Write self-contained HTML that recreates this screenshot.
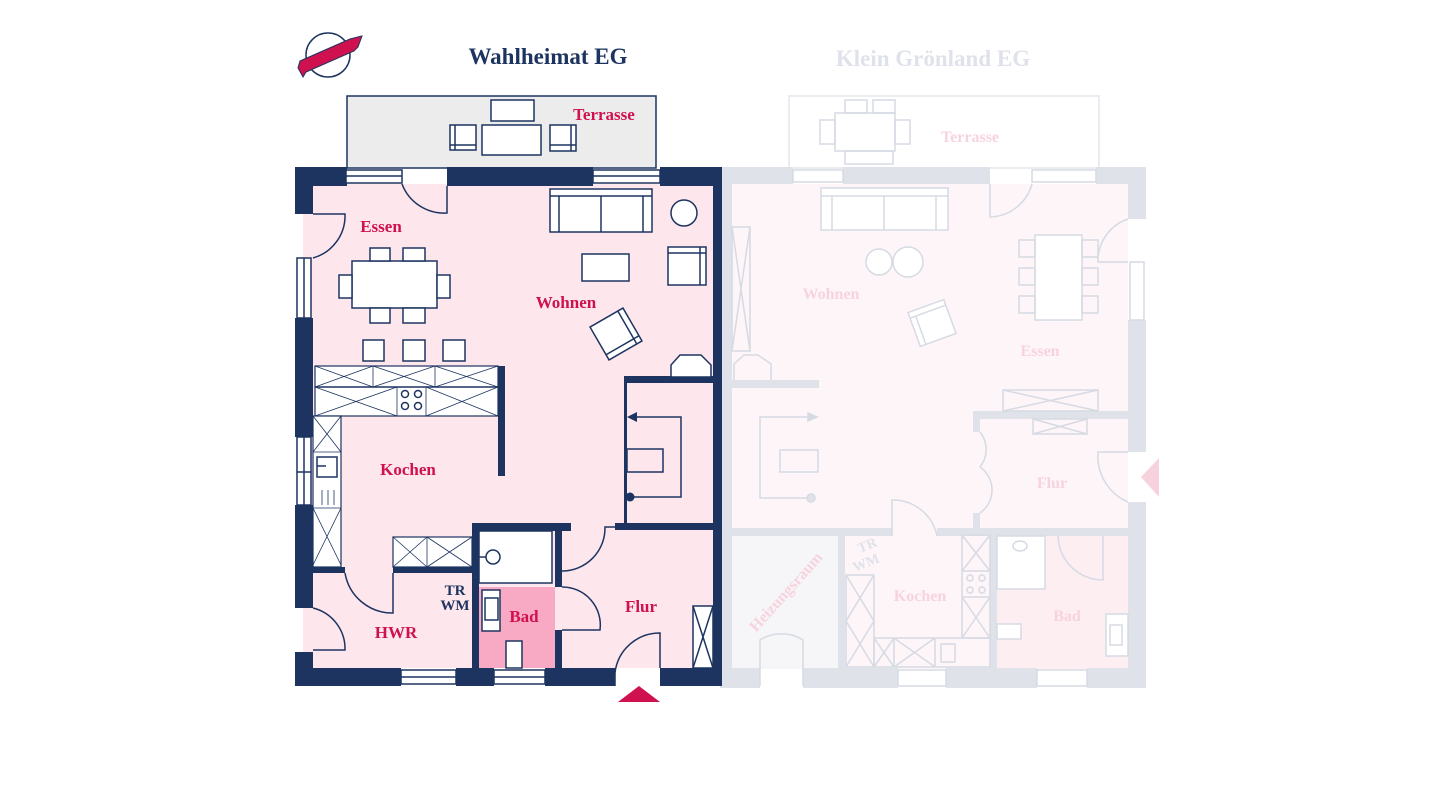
<!DOCTYPE html>
<html><head><meta charset="utf-8"><style>
html,body{margin:0;padding:0;background:#fff;}
svg{display:block;}
text{font-family:"Liberation Serif",serif;font-weight:bold;}
</style></head><body>
<svg width="1440" height="810" viewBox="0 0 1440 810" xmlns="http://www.w3.org/2000/svg">
<rect width="1440" height="810" fill="#fff"/>

<!-- Logo -->
<circle cx="328" cy="55" r="22" fill="none" stroke="#1d3461" stroke-width="1.5"/>
<polygon points="300,61 350,39 362,36 358,47 354,51 306,72 303,77 298,68" fill="#d0114f" stroke="#1d3461" stroke-width="1"/>

<text x="548" y="64" font-size="23" fill="#1d3461" text-anchor="middle">Wahlheimat EG</text>
<text x="933" y="66" font-size="23" fill="#dfe2ea" text-anchor="middle">Klein Grönland EG</text>

<!-- ============ RIGHT (faded) BUILDING ============ -->
<g>
<rect x="789" y="96" width="310" height="72" fill="#fff" stroke="#e2e5ec" stroke-width="1.5"/>
<rect x="732" y="184" width="396" height="485" fill="#fdf5f8"/>
<rect x="732" y="536" width="106" height="133" fill="#f6f6f8"/>
<rect x="997" y="536" width="131" height="133" fill="#fdeef2"/>
<g fill="#dfe2e9">
<rect x="720" y="167" width="12" height="521"/>
<rect x="720" y="167" width="73" height="17"/>
<rect x="843" y="167" width="147" height="17"/>
<rect x="1096" y="167" width="50" height="17"/>
<rect x="1128" y="167" width="18" height="52"/>
<rect x="1128" y="320" width="18" height="132"/>
<rect x="1128" y="502" width="18" height="186"/>
<rect x="720" y="668" width="40" height="20"/>
<rect x="803" y="668" width="95" height="20"/>
<rect x="946" y="668" width="91" height="20"/>
<rect x="1087" y="668" width="59" height="20"/>
<rect x="732" y="380" width="87" height="8"/>
<rect x="732" y="528" width="160" height="8"/>
<rect x="937" y="528" width="191" height="8"/>
<rect x="838" y="536" width="7" height="133"/>
<rect x="990" y="536" width="7" height="133"/>
<rect x="973" y="411" width="155" height="8"/>
<rect x="973" y="419" width="7" height="13"/>
<rect x="973" y="513" width="7" height="15"/>
</g>
<g fill="none" stroke="#d6dae3" stroke-width="1.5">
<rect x="793" y="170" width="50" height="12" fill="#fff"/>
<rect x="1032" y="170" width="64" height="12" fill="#fff"/>
<rect x="1130" y="262" width="14" height="58" fill="#fff"/>
<rect x="898" y="670" width="48" height="16" fill="#fff"/>
<rect x="1037" y="670" width="50" height="16" fill="#fff"/>
<path d="M990,184 V217 A45,45 0 0 0 1032,184"/>
<path d="M1128,219 A44,44 0 0 0 1098,262 H1128" />
<path d="M1128,502 A50,50 0 0 1 1098,452 H1128"/>
<path d="M892,536 V500 A45,45 0 0 1 937,536"/>
<path d="M760,686 V640 A40,40 0 0 1 803,640 V686"/>
<path d="M980,432 A28,28 0 0 1 980,467 A28,28 0 0 1 980,513"/>
<path d="M1058,536 A45,45 0 0 0 1103,580 V536"/>
<rect x="835" y="113" width="60" height="38" fill="#fff"/>
<rect x="845" y="100" width="22" height="13"/><rect x="873" y="100" width="22" height="13"/>
<rect x="845" y="151" width="48" height="13"/>
<rect x="820" y="120" width="15" height="24"/><rect x="895" y="120" width="15" height="24"/>
<rect x="821" y="188" width="127" height="42" fill="#fff"/>
<line x1="821" y1="196" x2="948" y2="196"/><line x1="832" y1="196" x2="832" y2="230"/><line x1="936" y1="196" x2="936" y2="230"/><line x1="884" y1="196" x2="884" y2="230"/>
<circle cx="879" cy="262" r="13" fill="#fff"/><circle cx="908" cy="262" r="15" fill="#fff"/>
<rect x="732" y="227" width="18" height="124"/><path d="M732,227 L750,351 M750,227 L732,351"/>
<path d="M734,380 V364 L744,355 H758 L771,364 V380"/>
<g transform="rotate(-20 932 323)"><rect x="913" y="305" width="38" height="36" fill="#fff"/><path d="M913,311 H951 M919,311 V341"/></g>
<rect x="1035" y="235" width="47" height="85" fill="#fff"/>
<rect x="1019" y="240" width="16" height="17"/><rect x="1019" y="268" width="16" height="17"/><rect x="1019" y="296" width="16" height="17"/>
<rect x="1082" y="240" width="16" height="17"/><rect x="1082" y="268" width="16" height="17"/><rect x="1082" y="296" width="16" height="17"/>
<rect x="1003" y="390" width="95" height="21"/><path d="M1003,390 L1098,411 M1098,390 L1003,411"/>
<rect x="1033" y="419" width="54" height="15"/><path d="M1033,419 L1087,434 M1087,419 L1033,434"/>
<path d="M817,417 H760 V498 H810"/><rect x="780" y="450" width="38" height="22"/>
<circle cx="811" cy="498" r="4" fill="#dfe2e9"/>
<path d="M808,413 L817,417 L808,421 Z" fill="#d6dae3"/>
<rect x="846" y="575" width="28" height="92"/><path d="M846,575 L874,621 M874,575 L846,621 M846,621 L874,667 M874,621 L846,667"/>
<rect x="874" y="638" width="116" height="29"/><path d="M874,638 L894,667 M894,638 L874,667 M894,638 L935,667 M935,638 L894,667"/>
<line x1="894" y1="638" x2="894" y2="667"/><line x1="935" y1="638" x2="935" y2="667"/>
<rect x="941" y="644" width="14" height="18"/>
<rect x="962" y="535" width="28" height="103"/><path d="M962,535 L990,571 M990,535 L962,571"/><line x1="962" y1="571" x2="990" y2="571"/><line x1="962" y1="597" x2="990" y2="597"/><path d="M962,597 L990,638 M990,597 L962,638"/>
<circle cx="970" cy="578" r="3"/><circle cx="982" cy="578" r="3"/><circle cx="970" cy="590" r="3"/><circle cx="982" cy="590" r="3"/>
<rect x="997" y="536" width="48" height="53" fill="#fff"/>
<ellipse cx="1020" cy="546" rx="7" ry="5"/>
<rect x="997" y="624" width="24" height="15" fill="#fff"/>
<rect x="1106" y="614" width="22" height="42" fill="#fff"/><rect x="1110" y="625" width="12" height="20"/>
</g>
<polygon points="1159,458 1159,497 1141,477" fill="#f6d2dd"/>
<g font-size="16" fill="#f7d3de">
<text x="970" y="142" text-anchor="middle">Terrasse</text>
<text x="831" y="299" text-anchor="middle">Wohnen</text>
<text x="1040" y="356" text-anchor="middle">Essen</text>
<text x="1052" y="488" text-anchor="middle">Flur</text>
<text x="920" y="601" text-anchor="middle">Kochen</text>
<text x="1067" y="621" text-anchor="middle">Bad</text>
<text x="786" y="597" text-anchor="middle" transform="rotate(-48 786 592)">Heizungsraum</text>
</g>
<text x="860" y="553" font-size="14" fill="#dfe2e9" transform="rotate(-22 860 553)">TR</text>
<text x="855" y="572" font-size="14" fill="#dfe2e9" transform="rotate(-22 855 572)">WM</text>

<!-- ============ LEFT BUILDING ============ -->
<rect x="347" y="96" width="309" height="72" fill="#ececec" stroke="#1d3461" stroke-width="1.5"/>
<rect x="303" y="184" width="411" height="484" fill="#fde6ec"/>
<rect x="479" y="587" width="76" height="81" fill="#f8aac4"/>
<g fill="#1d3461">
<rect x="295" y="167" width="52" height="19"/>
<rect x="447" y="167" width="146" height="19"/>
<rect x="660" y="167" width="62" height="19"/>
<rect x="295" y="167" width="18" height="47"/>
<rect x="295" y="318" width="18" height="119"/>
<rect x="295" y="505" width="18" height="103"/>
<rect x="295" y="652" width="18" height="34"/>
<rect x="713" y="167" width="9" height="519"/>
<rect x="295" y="668" width="106" height="18"/>
<rect x="456" y="668" width="38" height="18"/>
<rect x="545" y="668" width="70" height="18"/>
<rect x="660" y="668" width="62" height="18"/>
<rect x="498" y="366" width="7" height="110"/>
<rect x="625" y="376" width="88" height="7"/>
<rect x="624" y="376" width="3" height="150"/>
<rect x="615" y="523" width="98" height="7"/>
<rect x="472" y="523" width="99" height="8"/>
<rect x="472" y="523" width="7" height="163"/>
<rect x="555" y="523" width="7" height="64"/>
<rect x="555" y="630" width="7" height="56"/>
<rect x="313" y="567" width="32" height="6"/>
<rect x="393" y="567" width="79" height="6"/>
</g>
<g fill="none" stroke="#1d3461" stroke-width="1.5">
<rect x="346" y="170" width="56" height="13" fill="#fff"/><line x1="346" y1="176" x2="402" y2="176"/>
<rect x="593" y="170" width="67" height="13" fill="#fff"/><line x1="593" y1="176" x2="660" y2="176"/>
<rect x="297" y="258" width="14" height="60" fill="#fff"/><line x1="304" y1="258" x2="304" y2="318"/>
<rect x="297" y="437" width="14" height="68" fill="#fff"/><line x1="304" y1="437" x2="304" y2="505"/><line x1="297" y1="472" x2="311" y2="472"/>
<rect x="401" y="670" width="55" height="14" fill="#fff"/><line x1="401" y1="677" x2="456" y2="677"/>
<rect x="494" y="670" width="51" height="14" fill="#fff"/><line x1="494" y1="677" x2="545" y2="677"/>
<path d="M402,184 A45,45 0 0 0 447,213 V186"/>
<path d="M313,214 H345 A44,44 0 0 1 313,258"/>
<path d="M313,608 A42,42 0 0 1 345,650 H313"/>
<path d="M345,573 A48,48 0 0 0 393,613 V573"/>
<path d="M562,571 A43,43 0 0 0 605,527 H615"/>
<path d="M562,587 A38,38 0 0 1 600,630 H562"/>
<path d="M615,686 V673 A45,45 0 0 1 660,633 V668"/>
<rect x="491" y="100" width="43" height="21" fill="#fff"/>
<rect x="482" y="125" width="59" height="30" fill="#fff"/>
<rect x="450" y="125" width="26" height="25" fill="#fff"/><line x1="455" y1="125" x2="455" y2="150"/><line x1="450" y1="145" x2="476" y2="145"/>
<rect x="550" y="125" width="26" height="26" fill="#fff"/><line x1="571" y1="125" x2="571" y2="151"/><line x1="550" y1="145" x2="576" y2="145"/>
<rect x="550" y="189" width="102" height="43" fill="#fff"/>
<line x1="550" y1="196" x2="652" y2="196"/><line x1="559" y1="196" x2="559" y2="232"/><line x1="643" y1="196" x2="643" y2="232"/><line x1="601" y1="196" x2="601" y2="232"/>
<circle cx="684" cy="213" r="13" fill="#fff"/>
<rect x="582" y="254" width="47" height="27" fill="#fff"/>
<rect x="668" y="247" width="38" height="38" fill="#fff"/><line x1="700" y1="247" x2="700" y2="285"/><line x1="668" y1="253" x2="706" y2="253"/>
<g transform="rotate(-30 616 334)"><rect x="597" y="315" width="38" height="38" fill="#fff"/><path d="M597,347 H635 M629,315 V353"/></g>
<path d="M671,377 V365 L680,355 H701 L711,365 V377 Z" fill="#fff"/>
<rect x="352" y="261" width="85" height="47" fill="#fff"/>
<rect x="370" y="248" width="20" height="13" fill="#fff"/><rect x="403" y="248" width="22" height="13" fill="#fff"/>
<rect x="370" y="308" width="20" height="15" fill="#fff"/><rect x="403" y="308" width="22" height="15" fill="#fff"/>
<rect x="339" y="275" width="13" height="23" fill="#fff"/><rect x="437" y="275" width="13" height="23" fill="#fff"/>
<rect x="363" y="340" width="21" height="21" fill="#fff"/><rect x="403" y="340" width="22" height="21" fill="#fff"/><rect x="443" y="340" width="22" height="21" fill="#fff"/>
<rect x="315" y="366" width="183" height="50" fill="#fff" stroke-width="1.2"/>
<line x1="315" y1="387" x2="498" y2="387"/>
<g stroke-width="0.8">
<line x1="373" y1="366" x2="373" y2="387"/><line x1="435" y1="366" x2="435" y2="387"/>
<path d="M315,366 L373,387 M373,366 L315,387 M373,366 L435,387 M435,366 L373,387 M435,366 L498,387 M498,366 L435,387"/>
<path d="M315,387 L397,416 M397,387 L315,416 M426,387 L498,416 M498,387 L426,416"/>
<line x1="397" y1="387" x2="397" y2="416"/><line x1="426" y1="387" x2="426" y2="416"/>
</g>
<circle cx="405" cy="394" r="3.5"/><circle cx="418" cy="394" r="3.5"/><circle cx="405" cy="406" r="3.5"/><circle cx="418" cy="406" r="3.5"/>
<rect x="313" y="416" width="28" height="151" fill="#fff" stroke-width="1.2"/>
<g stroke-width="0.8">
<line x1="313" y1="452" x2="341" y2="452"/><line x1="313" y1="508" x2="341" y2="508"/>
<path d="M313,416 L341,452 M341,416 L313,452 M313,508 L341,565 M341,508 L313,565"/>
<line x1="322" y1="490" x2="322" y2="505"/><line x1="328" y1="490" x2="328" y2="505"/><line x1="334" y1="490" x2="334" y2="505"/>
</g>
<rect x="317" y="457" width="20" height="20"/><line x1="317" y1="466" x2="326" y2="466"/>
<rect x="393" y="537" width="79" height="30" fill="#fff" stroke-width="1.2"/>
<g stroke-width="0.8"><line x1="427" y1="537" x2="427" y2="567"/><path d="M393,537 L427,567 M427,537 L393,567 M427,537 L472,567 M472,537 L427,567"/></g>
<path d="M630,417 H681 V497 H630"/>
<rect x="627" y="449" width="36" height="23"/>
<rect x="479" y="531" width="73" height="52" fill="#fff"/>
<circle cx="493" cy="557" r="7" fill="#fff"/><line x1="479" y1="557" x2="486" y2="557"/>
<rect x="482" y="590" width="18" height="41" fill="#fff"/><rect x="485" y="598" width="13" height="22"/>
<rect x="506" y="641" width="16" height="27" fill="#fff"/>
<rect x="693" y="606" width="20" height="62" fill="#fff"/><path d="M693,606 L713,668 M713,606 L693,668"/>
</g>
<polygon points="627,417 637,412 637,422" fill="#1d3461"/>
<circle cx="630" cy="497" r="4.5" fill="#1d3461"/>
<polygon points="618,702 660,702 639,686" fill="#d0114f"/>

<g font-size="17" fill="#d0114f">
<text x="604" y="120" text-anchor="middle">Terrasse</text>
<text x="381" y="232" text-anchor="middle">Essen</text>
<text x="566" y="308" text-anchor="middle">Wohnen</text>
<text x="408" y="475" text-anchor="middle">Kochen</text>
<text x="396" y="638" text-anchor="middle">HWR</text>
<text x="524" y="622" text-anchor="middle">Bad</text>
<text x="641" y="612" text-anchor="middle">Flur</text>
</g>
<text x="455" y="595" font-size="15" fill="#1d3461" text-anchor="middle">TR</text>
<text x="455" y="610" font-size="15" fill="#1d3461" text-anchor="middle">WM</text>
</svg>
</body></html>
